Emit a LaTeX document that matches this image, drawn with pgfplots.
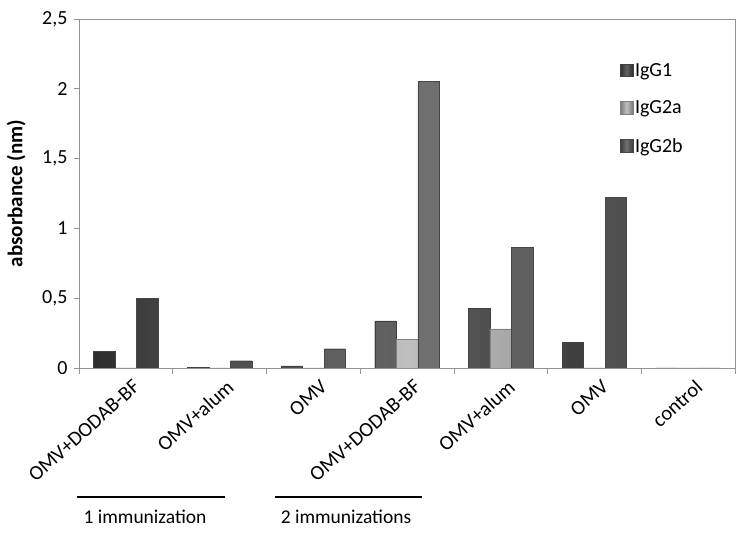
\documentclass[border=0pt]{standalone}
\usepackage{pgfplots}
\pgfplotsset{compat=1.18}
\usepackage{fontspec}
\setmainfont{Carlito}
\begin{document}
\begin{tikzpicture}[x=1pt,y=1pt]
\path[use as bounding box] (0,0) rectangle (750,538);
\begin{axis}[
  at={(79pt,170pt)}, anchor=south west,
  scale only axis, width=656pt, height=349pt,
  ybar=0pt, bar width=21.5pt,
  xmin=-0.5, xmax=6.5, ymin=0, ymax=2.5,
  xtick={0,...,6},
  xticklabels={OMV+DODAB-BF,OMV+alum,OMV,OMV+DODAB-BF,OMV+alum,OMV,control},
  major x tick style={draw=none},
  minor xtick={-0.5,0.5,...,6.5},
  minor x tick style={draw=gray!80, line width=0.6pt},
  minor tick length=6pt,
  xticklabel style={rotate=42, anchor=north east, font=\fontsize{20.5}{20.5}\selectfont, inner sep=2pt, xshift=3pt, yshift=-6pt},
  ytick={0,0.5,1,1.5,2,2.5},
  yticklabels={0,{0,5},1,{1,5},2,{2,5}},
  yticklabel style={font=\fontsize{20}{20}\selectfont, xshift=-3pt},
  major tick length=5pt,
  tick align=outside,
  xtick pos=bottom, ytick pos=left,
  /pgf/number format/assume math mode=true,
  axis line style={draw=gray!85, line width=0.8pt},
  y tick style={draw=gray!85, line width=0.6pt},
  ylabel={\bfseries absorbance (nm)},
  ylabel style={font=\fontsize{21}{21}\selectfont, at={(axis description cs:-0.076,0.5)}, anchor=south},
  legend style={draw=none, fill=none, at={(0.82,0.885)}, anchor=north west,
    font=\fontsize{20}{20}\selectfont, row sep=19pt, legend cell align=left,
    nodes={inner xsep=2pt}},
  legend image code/.code={\draw[#1] (0pt,-6pt) rectangle (12.5pt,6.5pt);},
]
\addplot[draw=black!75, line width=0.4pt, left color=black!82, right color=black!82, middle color=black!62]
  coordinates {(0,0.117) (1,0.005) (2,0.016) (3,0.337) (4,0.425) (5,0.184) (6,0)};
\addlegendentry{IgG1}
\addplot[draw=black!50, line width=0.4pt, left color=black!52, right color=black!52, middle color=black!25]
  coordinates {(0,0) (1,0) (2,0) (3,0.205) (4,0.28) (5,0) (6,0)};
\addlegendentry{IgG2a}
\addplot[draw=black!72, line width=0.4pt, left color=black!76, right color=black!76, middle color=black!56]
  coordinates {(0,0.50) (1,0.052) (2,0.138) (3,2.055) (4,0.862) (5,1.22) (6,0)};
\addlegendentry{IgG2b}
\end{axis}
\draw[line width=1.3pt] (77,41) -- (225,41);
\draw[line width=1.3pt] (275,41) -- (422,41);
\node[font=\fontsize{19.5}{19.5}\selectfont] at (145,21) {1 immunization};
\node[font=\fontsize{19.5}{19.5}\selectfont] at (346,21) {2 immunizations};
\end{tikzpicture}
\end{document}
